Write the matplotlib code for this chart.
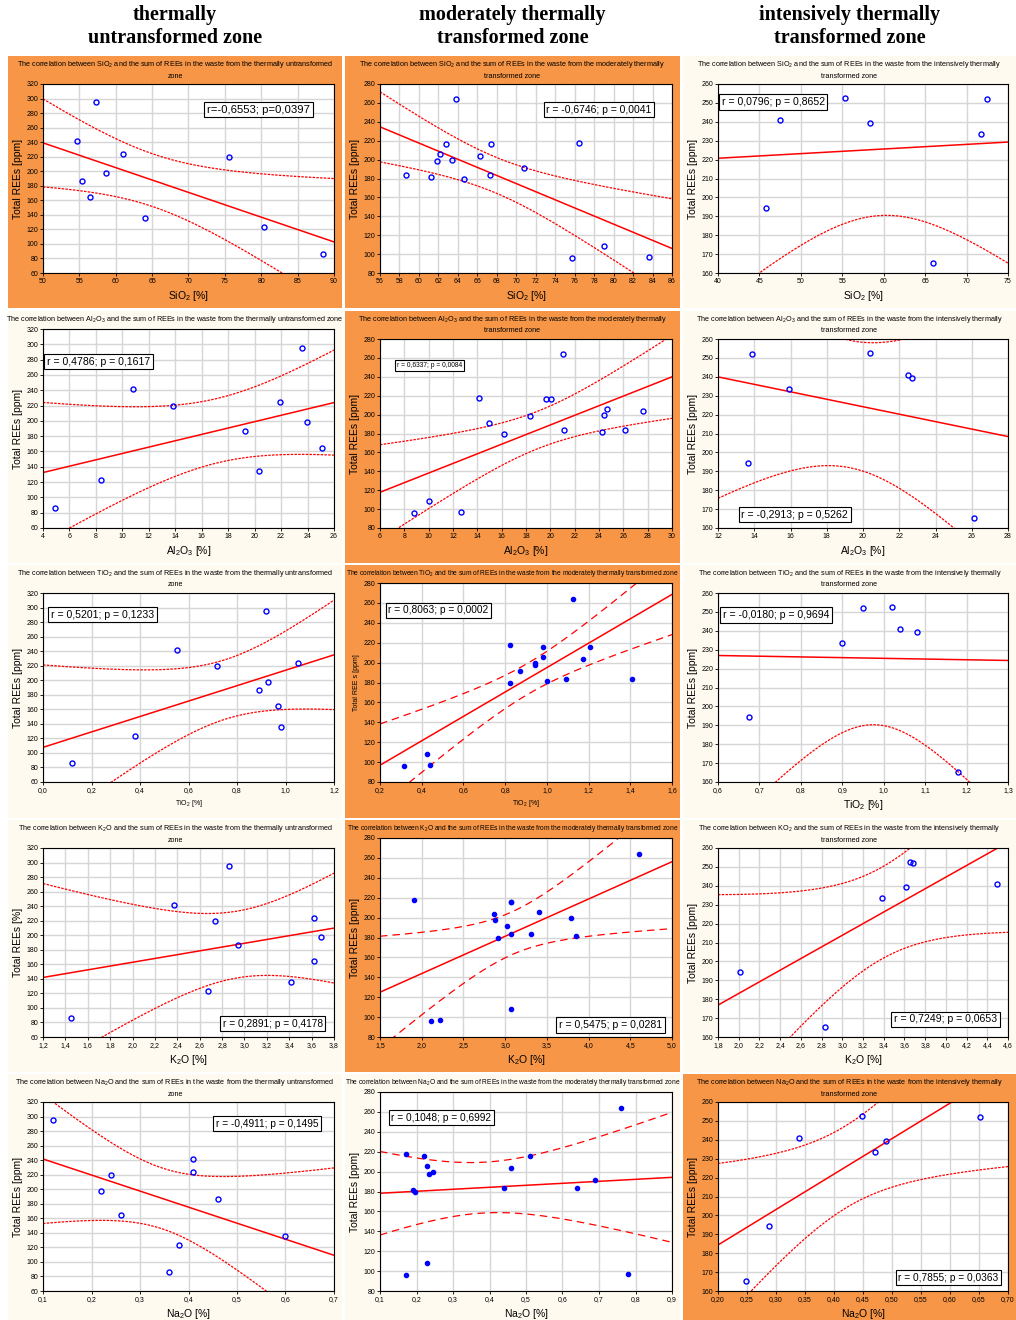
import numpy as np
import matplotlib
matplotlib.use('Agg')
import matplotlib.pyplot as plt
from matplotlib.patches import Rectangle
from matplotlib.ticker import FixedLocator, FuncFormatter

plt.rcParams['font.family'] = ['Liberation Sans', 'DejaVu Sans']
plt.rcParams['mathtext.fontset'] = 'custom'
plt.rcParams['mathtext.rm'] = 'Liberation Sans'
plt.rcParams['mathtext.it'] = 'Liberation Sans:italic'

###############################################################################
# data

# thermally untransformed zone (10 samples)
ree_untr = [295, 242, 187, 164, 198, 224, 135, 219, 123, 86]
sio2_untr = [57.3, 54.7, 55.4, 56.4, 58.6, 61.0, 64.0, 75.5, 80.4, 88.5]
al2o3_untr = [23.55, 10.83, 19.25, 25.1, 23.97, 21.9, 20.36, 13.82, 8.35, 4.88]
tio2_untr = [0.920, 0.551, 0.891, 0.970, 0.929, 1.050, 0.980, 0.718, 0.379, 0.121]
k2o_untr = [2.86, 2.37, 2.94, 3.62, 3.68, 3.62, 3.42, 2.74, 2.67, 1.45]
na2o_untr = [0.12, 0.41, 0.46, 0.26, 0.22, 0.41, 0.60, 0.24, 0.38, 0.36]

# moderately thermally transformed zone (16 samples)
ree_mod = [184, 181.5, 198, 206, 216, 200, 264, 179, 204, 216, 184, 191.5,
           96, 217.5, 108.5, 97]
sio2_mod = [58.7, 61.27, 61.82, 62.13, 62.8, 63.4, 63.77, 64.66, 66.27, 67.4,
            67.34, 70.8, 75.76, 76.4, 79.0, 83.67]
al2o3_mod = [21.1, 24.25, 18.36, 24.63, 19.64, 24.41, 21.07, 16.19, 27.6,
             20.03, 26.1, 14.99, 8.77, 14.11, 10.0, 12.68]
tio2_mod = [1.094, 0.999, 0.944, 0.983, 0.983, 0.944, 1.126, 0.823, 1.174,
            1.207, 1.41, 0.872, 0.314, 0.823, 0.425, 0.439]
k2o_mod = [3.31, 3.855, 2.883, 3.41, 3.065, 3.794, 4.605, 2.919, 2.863,
           3.065, 3.065, 3.024, 2.113, 1.911, 3.065, 2.214]
na2o_mod = [0.44, 0.19, 0.235, 0.23, 0.22, 0.245, 0.76, 0.195, 0.46, 0.51,
            0.64, 0.69, 0.17, 0.17, 0.23, 0.78]

# intensively thermally transformed zone (7 samples)
ree_int = [194.2, 240.9, 252.8, 239.5, 165.3, 233.6, 252.3]
sio2_int = [45.83, 47.51, 55.38, 58.38, 65.97, 71.76, 72.52]
al2o3_int = [13.67, 22.49, 20.4, 22.73, 26.14, 15.92, 13.89]
tio2_int = [0.675, 1.040, 1.019, 1.080, 1.180, 0.900, 0.949]
k2o_int = [2.008, 4.491, 3.654, 3.615, 2.829, 3.385, 3.679]
na2o_int = [0.288, 0.34, 0.449, 0.489, 0.248, 0.47, 0.652]

col_titles = ['thermally\nuntransformed zone',
              'moderately thermally\ntransformed zone',
              'intensively thermally\ntransformed zone']

stats = ['r=-0,6553; p=0,0397', 'r = -0,6746; p = 0,0041',
         'r = 0,0796; p = 0,8652',
         'r = 0,4786; p = 0,1617', 'r = 0,6337; p = 0,0084',
         'r = -0,2913; p = 0,5262',
         'r = 0,5201; p = 0,1233', 'r = 0,8063; p = 0,0002',
         'r = -0,0180; p = 0,9694',
         'r = 0,2891; p = 0,4178', 'r = 0,5475; p = 0,0281',
         'r = 0,7249; p = 0,0653',
         'r = -0,4911; p = 0,1495', 'r = 0,1048; p = 0,6992',
         'r = 0,7855; p = 0,0363']

###############################################################################

W, H = 1016, 1320
ORANGE = '#f79646'
CREAM = '#fffaf0'
T975 = {5: 2.571, 8: 2.306, 14: 2.145}

fig = plt.figure(figsize=(W/100, H/100), dpi=100)
fig.patch.set_facecolor('white')

PX = [(8, 342), (345, 680), (683, 1016)]
PY = [(56, 308), (311, 563), (565, 818), (820, 1072), (1074, 1320)]


def title_for(ox, zone, twoline):
    head = 'The correlation between %s and the sum of REEs in the waste from the ' % ox
    if zone == 0:
        tail = 'thermally untransformed zone'
    elif zone == 1:
        tail = 'moderately thermally transformed zone'
    else:
        tail = 'intensively thermally transformed zone'
    if twoline:
        words = tail.rsplit(' ', 1) if zone == 0 else tail.rsplit(' ', 2)
        if zone == 0:
            return head + words[0] + '\n' + words[1]
        return head + words[0] + '\n' + words[1] + ' ' + words[2]
    return head + tail


def fmt(dec):
    return FuncFormatter(lambda v, p: ('%.*f' % (dec, v)).replace('.', ','))


def panel(row, col, x, y, xlim, xstep, xdec, ylim, ystep, ox, xlab, ylab,
          stat, spos, bg, twoline=True, tsize=5.2, ssize=7.3, filled=False,
          dashed=False, xlsize=7.5, ylsize=7.5):
    x0, x1 = PX[col]
    y0, y1 = PY[row]
    fig.add_artist(Rectangle((x0/W, 1-y1/H), (x1-x0)/W, (y1-y0)/H,
                             transform=fig.transFigure, facecolor=bg,
                             edgecolor='none', zorder=0))
    fig.text((x0+x1)/2/W, 1-(y0+3)/H, title_for(ox, col, twoline),
             ha='center', va='top', fontsize=tsize, linespacing=1.5)
    top = y0 + (28 if twoline else 18)
    bot = y0 + 217
    ax = fig.add_axes([(x0+35)/W, 1-bot/H, (x1-x0-43)/W, (bot-top)/H])
    ax.set_facecolor('white')
    x = np.array(x, float)
    y = np.array(y, float)
    n = len(x)
    b, a = np.polyfit(x, y, 1)
    s = np.sqrt(np.sum((y-(a+b*x))**2)/(n-2))
    xs = np.linspace(xlim[0], xlim[1], 200)
    yh = a+b*xs
    hw = T975[n-2]*s*np.sqrt(1/n+(xs-x.mean())**2/np.sum((x-x.mean())**2))
    ls = (0, (6, 4)) if dashed else (0, (2, 1))
    ax.plot(xs, yh, color='#ff0000', lw=1.1)
    ax.plot(xs, yh+hw, color='#ff0000', lw=0.9, ls=ls)
    ax.plot(xs, yh-hw, color='#ff0000', lw=0.9, ls=ls)
    if filled:
        ax.plot(x, y, 'o', ms=3, color='#0000ff', mec='#0000ff')
    else:
        ax.plot(x, y, 'o', ms=3.6, mfc='none', mec='#0000ff', mew=1.0)
    ax.set_xlim(xlim)
    ax.set_ylim(ylim)
    ax.xaxis.set_major_locator(FixedLocator(np.arange(xlim[0], xlim[1]+xstep/2, xstep)))
    ax.yaxis.set_major_locator(FixedLocator(np.arange(ylim[0], ylim[1]+ystep/2, ystep)))
    ax.xaxis.set_major_formatter(fmt(xdec))
    ax.yaxis.set_major_formatter(fmt(0))
    ax.tick_params(labelsize=5, length=2, width=0.6, pad=1.5)
    ax.grid(True, color='#d6d6d6', lw=1.0)
    ax.set_axisbelow(True)
    for sp in ax.spines.values():
        sp.set_linewidth(0.8)
    ax.set_xlabel(xlab, fontsize=xlsize, labelpad=3)
    ax.set_ylabel(ylab, fontsize=ylsize, labelpad=2)
    ax.text(spos[0], spos[1], stat, transform=ax.transAxes, ha='center',
            va='center', fontsize=ssize,
            bbox=dict(boxstyle='square,pad=0.25', fc='white', ec='black', lw=0.8))
    return ax


REE = 'Total REEs [ppm]'
SIO2 = 'SiO$_2$'
AL = 'Al$_2$O$_3$'
TI = 'TiO$_2$'
K = 'K$_2$O'
NA = 'Na$_2$O'

# row 1 - SiO2
panel(0, 0, sio2_untr, ree_untr, (50, 90), 5, 0, (60, 320), 20, SIO2,
      SIO2+' [%]', REE, stats[0], (0.74, 0.865), ORANGE, ssize=8.2)
panel(0, 1, sio2_mod, ree_mod, (56, 86), 2, 0, (80, 280), 20, SIO2,
      SIO2+' [%]', REE, stats[1], (0.75, 0.865), ORANGE, ssize=7.5)
panel(0, 2, sio2_int, ree_int, (40, 75), 5, 0, (160, 260), 10, SIO2,
      SIO2+' [%]', REE, stats[2], (0.19, 0.905), CREAM, ssize=7.6)

# row 2 - Al2O3
panel(1, 0, al2o3_untr, ree_untr, (4, 26), 2, 0, (60, 320), 20, AL,
      AL+' [%]', REE, stats[3], (0.19, 0.835), CREAM, twoline=False,
      ssize=7.6)
panel(1, 1, al2o3_mod, ree_mod, (6, 30), 2, 0, (80, 280), 20, AL,
      AL+' [%]', REE, stats[4], (0.17, 0.86), ORANGE, ssize=4.8)
panel(1, 2, al2o3_int, ree_int, (12, 28), 2, 0, (160, 260), 10, AL,
      AL+' [%]', REE, stats[5], (0.265, 0.07), CREAM, ssize=7.6)

# row 3 - TiO2
panel(2, 0, tio2_untr, ree_untr, (0, 1.2), 0.2, 1, (60, 320), 20, TI,
      TI+' [%]', REE, stats[6], (0.205, 0.885), CREAM, xlsize=5,
      ssize=7.6)
panel(2, 1, tio2_mod, ree_mod, (0.2, 1.6), 0.2, 1, (80, 280), 20, TI,
      TI+' [%]', 'Total REE s [ppm]', stats[7], (0.2, 0.862), ORANGE,
      twoline=False, tsize=4.8, filled=True, dashed=True, xlsize=5,
      ylsize=5)
panel(2, 2, tio2_int, ree_int, (0.6, 1.3), 0.1, 1, (160, 260), 10, TI,
      TI+' [%]', REE, stats[8], (0.2, 0.883), CREAM, ssize=7.6)

# row 4 - K2O
panel(3, 0, k2o_untr, ree_untr, (1.2, 3.8), 0.2, 1, (60, 320), 20, K,
      K+' [%]', 'Total REEs [%]', stats[9], (0.79, 0.07), CREAM)
panel(3, 1, k2o_mod, ree_mod, (1.5, 5.0), 0.5, 1, (80, 280), 20, K,
      K+' [%]', REE, stats[10], (0.79, 0.06), ORANGE, twoline=False,
      tsize=4.8, filled=True, dashed=True, ssize=7.6)
panel(3, 2, k2o_int, ree_int, (1.8, 4.6), 0.2, 1, (160, 260), 10, 'KO$_2$',
      K+' [%]', REE, stats[11], (0.785, 0.093), CREAM, ssize=7.6)

# row 5 - Na2O
panel(4, 0, na2o_untr, ree_untr, (0.1, 0.7), 0.1, 1, (60, 320), 20, NA,
      NA+' [%]', REE, stats[12], (0.77, 0.885), CREAM)
panel(4, 1, na2o_mod, ree_mod, (0.1, 0.9), 0.1, 1, (80, 280), 20, NA,
      NA+' [%]', REE, stats[13], (0.21, 0.87), CREAM, twoline=False,
      tsize=4.8, filled=True, dashed=True)
panel(4, 2, na2o_int, ree_int, (0.2, 0.7), 0.05, 2, (160, 260), 10, NA,
      NA+' [%]', REE, stats[14], (0.795, 0.07), ORANGE)

for i, t in enumerate(col_titles):
    fig.text((PX[i][0]+PX[i][1])/2/W, 1-5/H, t, ha='center', va='top',
             fontsize=14.5, fontweight='bold', family='Liberation Serif',
             linespacing=1.2)

fig.savefig('out.png', dpi=100)
